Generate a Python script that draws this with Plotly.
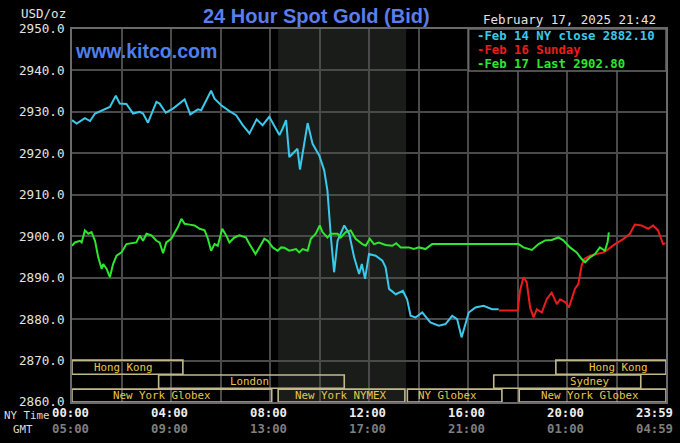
import plotly.graph_objects as go

# ---------------- data (hours of NY time, USD/oz) ----------------
cyan_h = [0.0, 0.19, 0.52, 0.73, 0.93, 1.26, 1.53, 1.77, 1.93, 2.2, 2.47, 2.74, 2.87, 3.07, 3.41, 3.54,
          3.79, 4.08, 4.55, 4.78, 5.09, 5.22, 5.62, 5.76, 6.03, 6.36, 6.63, 6.9, 7.17, 7.46, 7.7, 7.97,
          8.11, 8.38, 8.51, 8.65, 8.78, 9.11, 9.21, 9.52, 9.72, 9.99, 10.19, 10.32, 10.46, 10.59, 10.73,
          11.0, 11.2, 11.4, 11.6, 11.71, 11.84, 12.0, 12.27, 12.54, 12.67, 12.81, 13.08, 13.37, 13.54,
          13.68, 13.88, 14.15, 14.48, 14.82, 15.09, 15.36, 15.56, 15.74, 16.03, 16.3, 16.63, 16.97, 17.24]
cyan_v = [2928.0, 2927.2, 2928.5, 2927.8, 2929.6, 2930.4, 2931.2, 2933.9, 2932.0, 2931.9, 2929.6, 2930.0,
          2929.6, 2927.4, 2932.4, 2932.0, 2929.8, 2930.8, 2933.0, 2929.4, 2930.6, 2930.4, 2935.1, 2933.2,
          2931.6, 2930.2, 2929.2, 2926.8, 2924.8, 2928.2, 2926.8, 2928.8, 2927.2, 2924.4, 2926.0, 2928.0,
          2919.1, 2921.1, 2916.1, 2927.3, 2922.3, 2919.5, 2915.9, 2911.0, 2899.8, 2891.3, 2898.9, 2902.6,
          2900.6, 2894.9, 2890.9, 2893.3, 2889.7, 2895.7, 2895.3, 2894.1, 2892.5, 2887.3, 2886.0, 2886.8,
          2884.8, 2880.8, 2880.4, 2881.6, 2879.2, 2878.4, 2878.8, 2880.8, 2880.0, 2875.6, 2881.6, 2882.8,
          2883.2, 2882.4, 2882.4]

red_h = [17.25, 18.01, 18.1, 18.24, 18.37, 18.51, 18.65, 18.78, 18.98, 19.18, 19.38, 19.59, 19.72, 19.95,
         20.08, 20.32, 20.46, 20.59, 20.7, 20.93, 21.2, 21.47, 21.67, 21.94, 22.27, 22.54, 22.74, 23.01,
         23.28, 23.48, 23.68, 23.88, 23.98]
red_v = [2882.1, 2882.1, 2886.8, 2890.1, 2888.9, 2882.8, 2880.4, 2882.4, 2881.6, 2884.8, 2886.4, 2883.6,
         2884.8, 2884.0, 2882.8, 2887.3, 2888.5, 2892.9, 2894.5, 2895.3, 2895.7, 2896.1, 2896.9, 2898.1,
         2899.3, 2900.6, 2902.8, 2902.6, 2901.8, 2902.6, 2901.4, 2898.1, 2898.3]

green_h = [0.0, 0.12, 0.32, 0.39, 0.52, 0.66, 0.79, 0.93, 1.06, 1.2, 1.26, 1.4, 1.53, 1.66, 1.8, 2.0, 2.2,
           2.4, 2.6, 2.74, 2.87, 3.01, 3.21, 3.41, 3.54, 3.68, 3.81, 4.01, 4.15, 4.28, 4.42, 4.55, 4.75,
           4.95, 5.16, 5.36, 5.49, 5.62, 5.76, 5.89, 6.07, 6.23, 6.36, 6.56, 6.77, 7.03, 7.17, 7.41, 7.57,
           7.77, 7.91, 8.11, 8.31, 8.45, 8.58, 8.78, 9.05, 9.18, 9.32, 9.52, 9.65, 9.85, 10.01, 10.12,
           10.32, 10.46, 10.73, 10.86, 11.06, 11.26, 11.46, 11.73, 11.87, 12.03, 12.2, 12.4, 12.67, 12.94,
           13.1, 13.28, 13.61, 13.81, 14.02, 14.28, 14.55, 18.04, 18.24, 18.58, 18.85, 19.12, 19.38, 19.65,
           19.85, 20.12, 20.39, 20.59, 20.73, 20.93, 21.13, 21.33, 21.53, 21.64, 21.69]
green_v = [2897.7, 2898.5, 2898.9, 2898.5, 2901.4, 2900.6, 2901.0, 2898.9, 2894.9, 2892.1, 2893.3, 2892.1,
           2890.1, 2893.3, 2895.3, 2896.1, 2898.1, 2898.3, 2898.5, 2900.2, 2898.9, 2900.6, 2900.2, 2898.9,
           2898.5, 2895.9, 2898.5, 2899.4, 2901.0, 2902.2, 2904.2, 2903.0, 2902.8, 2902.6, 2901.8, 2901.4,
           2899.4, 2896.5, 2898.1, 2897.7, 2901.8, 2900.2, 2898.5, 2899.7, 2900.2, 2899.7, 2898.1, 2895.7,
           2897.3, 2899.4, 2898.9, 2897.3, 2896.5, 2897.3, 2897.2, 2896.5, 2896.9, 2896.1, 2896.9, 2896.5,
           2899.4, 2900.6, 2902.6, 2901.0, 2899.7, 2900.6, 2900.6, 2899.7, 2901.0, 2901.4, 2899.4, 2898.1,
           2897.7, 2899.4, 2898.1, 2898.5, 2897.9, 2897.7, 2898.3, 2897.3, 2897.3, 2896.9, 2897.3, 2896.9,
           2898.1, 2898.1, 2897.3, 2896.7, 2898.1, 2899.0, 2899.1, 2899.7, 2899.0, 2897.3, 2896.1, 2894.5,
           2893.7, 2894.9, 2895.7, 2897.3, 2896.5, 2898.6, 2900.9]

legend_texts = ["-Feb 14 NY close 2882.10", "-Feb 16 Sunday", "-Feb 17 Last 2902.80"]

# market sessions: name, start hour, end hour, row (0 = top), label hour
session_names = ["Hong Kong", "London", "New York Globex", "New York NYMEX", "NY Globex",
                 "Hong Kong", "Sydney", "New York Globex"]
session_start = [0.0, 3.5, 0.0, 8.33, 13.55, 19.55, 17.04, 18.07]
session_end = [4.48, 11.0, 8.07, 13.45, 17.37, 24.0, 22.98, 24.0]
session_row = [0, 1, 2, 2, 2, 0, 1, 2]
session_label_h = [2.09, 7.17, 3.62, 10.87, 15.18, 22.07, 20.94, 20.94]

nymex_start, nymex_end = 8.33, 13.5

tick_hours = [0, 4, 8, 12, 16, 20, 24]
ny_labels = ["00:00", "04:00", "08:00", "12:00", "16:00", "20:00", "23:59"]
gmt_labels = ["05:00", "09:00", "13:00", "17:00", "21:00", "01:00", "04:59"]

# ---------------- layout helpers ----------------
W, H = 680, 443
L, R, T, B = 72, 668, 29, 402


def px(x):
    return (x - L) / (R - L)


def py(y):
    return (B - y) / (B - T)


MONO = "DejaVu Sans Mono"
SANS = "Liberation Sans"
CYAN, RED, GREEN = "#3cc8ea", "#ec1c1c", "#2ee62e"

fig = go.Figure()
fig.add_trace(go.Scatter(x=cyan_h, y=cyan_v, mode="lines", line=dict(color=CYAN, width=2), hoverinfo="skip"))
fig.add_trace(go.Scatter(x=red_h, y=red_v, mode="lines", line=dict(color=RED, width=2), hoverinfo="skip"))
fig.add_trace(go.Scatter(x=green_h, y=green_v, mode="lines", line=dict(color=GREEN, width=2), hoverinfo="skip"))

shapes = [dict(type="rect", xref="x", yref="paper", x0=nymex_start, x1=nymex_end, y0=0, y1=1,
               fillcolor="#1a1c1a", line=dict(width=0), layer="below")]

row_y = [(2866.7, 2870.1), (2863.3, 2866.5), (2860.0, 2863.1)]
annotations = []
for name, s, e, r, lh in zip(session_names, session_start, session_end, session_row, session_label_h):
    y0, y1 = row_y[r]
    shapes.append(dict(type="rect", xref="x", yref="y", x0=s, x1=e, y0=y0, y1=y1,
                       line=dict(color="#c2b98a", width=1.6), fillcolor="rgba(0,0,0,0)", layer="above"))
    annotations.append(dict(xref="x", yref="y", x=lh, y=(y0 + y1) / 2, text=name, showarrow=False,
                            font=dict(family=MONO, size=10.8, color="#e8c64e"), xanchor="center",
                            yanchor="middle"))

# legend box
shapes.append(dict(type="rect", xref="paper", yref="paper", x0=px(470), x1=1, y0=py(71), y1=1,
                   fillcolor="#000000", line=dict(color="#6a6a6a", width=1.5), layer="above"))
for txt, col, yy in zip(legend_texts, [CYAN, RED, GREEN], [36, 50, 64]):
    annotations.append(dict(xref="paper", yref="paper", x=px(476), y=py(yy), text="<b>" + txt + "</b>",
                            showarrow=False, xanchor="left", yanchor="middle",
                            font=dict(family=MONO, size=12.3, color=col)))

# titles and texts
annotations += [
    dict(xref="paper", yref="paper", x=px(317), y=py(16), text="<b>24 Hour Spot Gold (Bid)</b>",
         showarrow=False, xanchor="center", yanchor="middle",
         font=dict(family=SANS, size=20, color="#5a7eec")),
    dict(xref="paper", yref="paper", x=px(73), y=py(51), text="<b>www.kitco.com</b>", showarrow=False,
         xanchor="left", yanchor="middle", font=dict(family=SANS, size=19.5, color="#4f7fec")),
    dict(xref="paper", yref="paper", x=px(68), y=py(14), text="USD/oz", showarrow=False,
         xanchor="right", yanchor="middle", font=dict(family=MONO, size=12.5, color="#e4e4e4")),
    dict(xref="paper", yref="paper", x=px(482), y=py(20), text="February 17, 2025 21:42", showarrow=False,
         xanchor="left", yanchor="middle", font=dict(family=MONO, size=12.5, color="#e4e4e4")),
    dict(xref="paper", yref="paper", x=px(2), y=py(415), text="NY Time", showarrow=False,
         xanchor="left", yanchor="middle", font=dict(family=MONO, size=10.8, color="#dcdcdc")),
    dict(xref="paper", yref="paper", x=px(11), y=py(429), text="GMT", showarrow=False,
         xanchor="left", yanchor="middle", font=dict(family=MONO, size=10.8, color="#dcdcdc")),
]
for h, ny, gmt in zip(tick_hours, ny_labels, gmt_labels):
    shift = -12 if h == 24 else -2
    annotations.append(dict(xref="x", yref="paper", x=h, y=py(413), text="<b>" + ny + "</b>", showarrow=False,
                            xanchor="center", yanchor="middle", xshift=shift,
                            font=dict(family=MONO, size=12.3, color="#eeeeee")))
    annotations.append(dict(xref="x", yref="paper", x=h, y=py(429), text="<b>" + gmt + "</b>", showarrow=False,
                            xanchor="center", yanchor="middle", xshift=shift,
                            font=dict(family=MONO, size=12.3, color="#7e7e7e")))

fig.update_layout(
    width=W, height=H,
    margin=dict(l=L, r=W - R, t=T, b=H - B, pad=0),
    paper_bgcolor="#000000", plot_bgcolor="#000000",
    showlegend=False,
    shapes=shapes, annotations=annotations,
    xaxis=dict(range=[0, 24], tickvals=list(range(0, 25, 2)), showticklabels=False, ticks="",
               showgrid=True, gridcolor="#4a4a4a", gridwidth=1.6, zeroline=False,
               showline=True, linecolor="#6a6a6a", linewidth=2, mirror=True, fixedrange=True),
    yaxis=dict(range=[2860, 2950], dtick=10, tick0=2860, tickformat=".1f", ticks="",
               showgrid=True, gridcolor="#4a4a4a", gridwidth=1.6, zeroline=False,
               showline=True, linecolor="#6a6a6a", linewidth=2, mirror=True, fixedrange=True,
               tickfont=dict(family=MONO, size=12.6, color="#e4e4e4"), ticklabelstandoff=3),
)

fig.write_html("out.html", config={"displayModeBar": False})
